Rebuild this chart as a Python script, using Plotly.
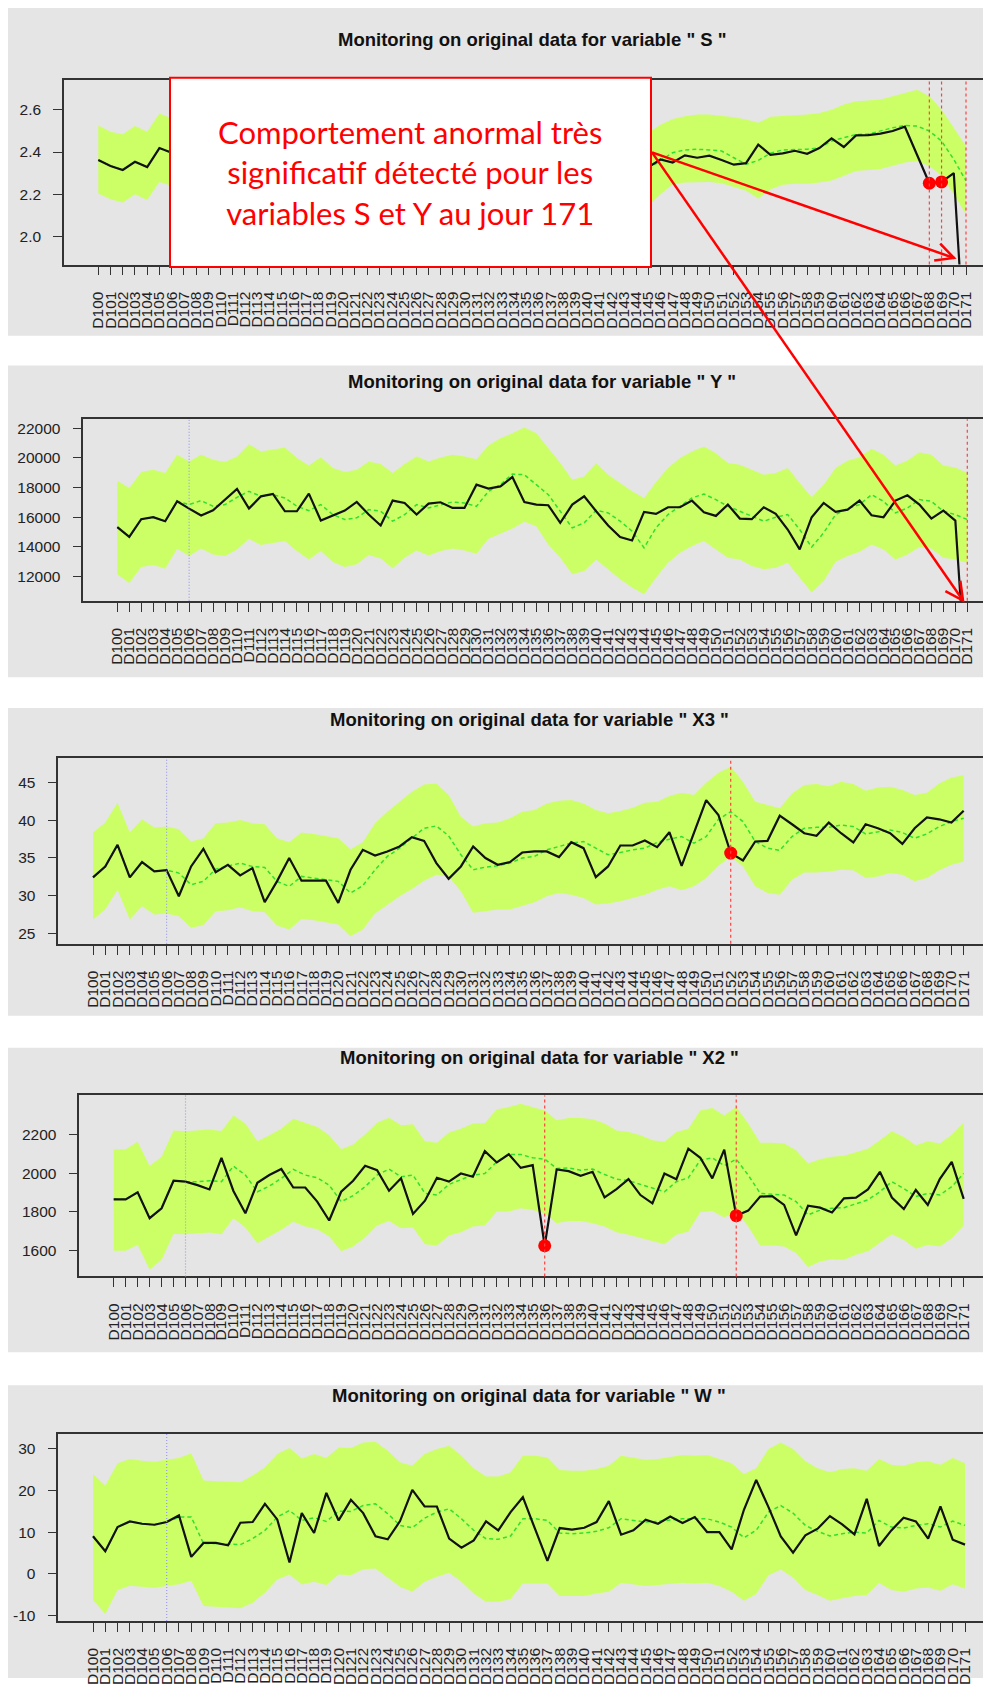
import math
import plotly.graph_objects as go

# ---------------- data ----------------
days = ["D%d" % d for d in range(100, 172)]

S_actual = [2.362, 2.334, 2.315, 2.354, 2.329, 2.419, 2.397,
            2.38, 2.35, 2.37, 2.40, 2.36, 2.33, 2.35, 2.38, 2.37, 2.34,
            2.31, 2.33, 2.36, 2.39, 2.37, 2.35, 2.32, 2.34, 2.37, 2.36,
            2.33, 2.30, 2.32, 2.35, 2.38, 2.36, 2.34, 2.31, 2.29, 2.32,
            2.35, 2.33, 2.30, 2.28, 2.31, 2.33, 2.30, 2.29,
            2.326, 2.365, 2.35, 2.384, 2.373, 2.383, 2.362, 2.34, 2.347, 2.435,
            2.387, 2.394, 2.406, 2.392, 2.419, 2.465, 2.424, 2.479, 2.48, 2.487,
            2.50, 2.52, 2.386, 2.252, 2.258, 2.30, 1.36]
S_mean = [2.362, 2.334, 2.315, 2.354, 2.329, 2.419, 2.397,
          2.40, 2.39, 2.38, 2.38, 2.39, 2.37, 2.36, 2.36, 2.37, 2.36,
          2.35, 2.34, 2.35, 2.36, 2.37, 2.36, 2.35, 2.34, 2.35, 2.36,
          2.35, 2.34, 2.33, 2.34, 2.35, 2.36, 2.35, 2.34, 2.33, 2.32,
          2.33, 2.34, 2.33, 2.32, 2.31, 2.32, 2.32, 2.31,
          2.318, 2.36, 2.397, 2.41, 2.413, 2.41, 2.405, 2.373, 2.342, 2.36,
          2.395, 2.41, 2.413, 2.413, 2.42, 2.452, 2.468, 2.483, 2.485, 2.50,
          2.515, 2.526, 2.523, 2.50, 2.452, 2.365, 2.263]
S_upper = [2.526, 2.496, 2.484, 2.523, 2.496, 2.583, 2.56,
           2.57, 2.56, 2.55, 2.55, 2.56, 2.54, 2.53, 2.53, 2.54, 2.53,
           2.52, 2.51, 2.52, 2.53, 2.54, 2.53, 2.52, 2.51, 2.52, 2.53,
           2.52, 2.51, 2.50, 2.51, 2.52, 2.53, 2.52, 2.51, 2.50, 2.49,
           2.50, 2.51, 2.50, 2.49, 2.48, 2.49, 2.49, 2.48,
           2.491, 2.53, 2.557, 2.57, 2.578, 2.578, 2.573, 2.565, 2.554, 2.539,
           2.567, 2.57, 2.575, 2.578, 2.585, 2.60, 2.625, 2.641, 2.645, 2.649,
           2.665, 2.68, 2.696, 2.665, 2.60, 2.515, 2.428]
S_lower = [2.203, 2.176, 2.161, 2.20, 2.172, 2.258, 2.24,
           2.23, 2.22, 2.21, 2.21, 2.22, 2.20, 2.19, 2.19, 2.20, 2.19,
           2.18, 2.17, 2.18, 2.19, 2.20, 2.19, 2.18, 2.17, 2.18, 2.19,
           2.18, 2.17, 2.16, 2.17, 2.18, 2.19, 2.18, 2.17, 2.16, 2.15,
           2.16, 2.17, 2.16, 2.15, 2.14, 2.15, 2.15, 2.14,
           2.145, 2.20, 2.247, 2.255, 2.258, 2.258, 2.252, 2.235, 2.216, 2.18,
           2.224, 2.245, 2.25, 2.25, 2.255, 2.265, 2.287, 2.31, 2.315, 2.32,
           2.335, 2.35, 2.357, 2.334, 2.287, 2.20, 2.105]

Y_actual = [15318, 14668, 15856, 15991, 15722, 17067, 16574, 16103, 16462, 17179,
            17896, 16574, 17403, 17560, 16394, 16394, 17582, 15767, 16125, 16439,
            17022, 16170, 15430, 17112, 16955, 16170, 16910, 17000, 16618, 16618,
            18188, 17919, 18076, 18703, 17022, 16843, 16798, 15610, 16843, 17403,
            16394, 15430, 14646, 14421, 16349, 16215, 16663, 16663, 17112, 16327,
            16080, 16843, 15901, 15856, 16663, 16215, 15161, 13816, 15991, 16955,
            16349, 16506, 17112, 16125, 15991, 17112, 17470, 16843, 15901, 16439,
            15767, 3600]
Y_upper = [18457, 17964, 19040, 19197, 18973, 20206, 19757, 20206, 19870, 19713,
           20094, 20923, 20430, 20542, 20699, 19982, 19488, 20049, 19309, 19040,
           19197, 19757, 19578, 18973, 19578, 20094, 19757, 20026, 20206, 20094,
           19914, 20834, 21327, 21664, 22045, 21664, 20654, 19645, 18524, 18748,
           19645, 18860, 18300, 17740, 17291, 18367, 19309, 19982, 20430, 20766,
           20318, 19645, 19533, 19197, 18860, 18973, 19309, 18300, 17336, 18188,
           19309, 19802, 20049, 20610, 20206, 19488, 19825, 20385, 20206, 19488,
           19354, 18973]
Y_lower = [12134, 11552, 12628, 12762, 12516, 13861, 13368, 13883, 13480, 13368,
           13816, 14533, 14107, 14220, 14377, 13704, 13143, 13704, 12964, 12628,
           12807, 13435, 13211, 12538, 13256, 13749, 13412, 13704, 13883, 13749,
           13525, 14533, 14892, 15228, 15677, 15385, 14152, 13256, 12134, 12359,
           13143, 12471, 11798, 11238, 10789, 11910, 12919, 13592, 14040, 14377,
           13816, 13256, 13143, 12695, 12471, 12583, 12919, 11910, 10901, 11686,
           12986, 13368, 13659, 14152, 13816, 13143, 13480, 13973, 13883, 13256,
           13143, 12919]
Y_mean = [15318, 14668, 15856, 15991, 15722, 17067, 16843, 17112, 16730, 16843,
          17336, 17740, 17400, 17515, 17291, 16730, 16439, 16843, 16170, 15834,
          15950, 16506, 16394, 15722, 16170, 16843, 16618, 16843, 17022, 16950,
          16730, 17740, 18188, 18905, 18860, 18188, 17515, 16394, 15273, 15610,
          16461, 16282, 15722, 15049, 13928, 15273, 16170, 16730, 17291, 17560,
          17179, 16730, 16394, 16058, 15722, 15991, 16170, 15161, 13973, 14937,
          16170, 16574, 16843, 17515, 17067, 16282, 16618, 17179, 17067, 16394,
          16170, 15834]

X3_actual = [32.40, 33.85, 36.72, 32.40, 34.43, 33.19, 33.37, 29.89, 33.85, 36.19,
             33.10, 34.07, 32.66, 33.63, 29.10, 31.87, 34.96, 31.96, 31.96, 31.96,
             29.01, 33.41, 36.06, 35.31, 35.84, 36.50, 37.73, 37.25, 34.29, 32.22,
             33.85, 36.50, 34.96, 34.07, 34.43, 35.70, 35.84, 35.84, 35.09, 37.07,
             36.28, 32.44, 33.85, 36.63, 36.63, 37.29, 36.41, 38.39, 33.94, 38.30,
             42.66, 40.68, 35.62, 34.65, 37.16, 37.25, 40.59, 39.45, 38.26, 37.91,
             39.67, 38.26, 37.03, 39.45, 38.92, 38.26, 36.85, 38.92, 40.37, 40.11,
             39.67, 41.25]
X3_upper = [38.35, 39.67, 42.31, 38.35, 40.11, 39.01, 39.14, 38.79, 37.16, 37.60,
            39.58, 39.67, 40.02, 39.58, 39.45, 37.60, 37.07, 38.35, 38.17, 37.91,
            37.60, 36.14, 37.07, 39.58, 41.12, 42.44, 43.77, 44.73, 44.87, 43.33,
            40.46, 39.14, 39.58, 39.67, 40.24, 41.12, 41.34, 42.22, 42.58, 42.66,
            42.22, 41.34, 40.90, 41.21, 41.65, 42.31, 42.44, 43.19, 43.63, 43.33,
            44.96, 46.28, 47.07, 45.09, 42.44, 42.00, 41.56, 43.55, 44.65, 44.78,
            44.51, 45.09, 44.78, 43.90, 44.34, 44.43, 43.99, 43.33, 43.63, 44.87,
            45.66, 45.97]
X3_lower = [26.81, 28.13, 30.77, 26.81, 28.57, 27.47, 27.60, 27.25, 25.70, 26.06,
            27.91, 28.04, 28.44, 27.91, 27.78, 26.01, 25.48, 26.89, 26.72, 26.45,
            26.15, 24.60, 25.48, 27.60, 28.79, 29.89, 30.86, 31.96, 32.75, 32.53,
            30.55, 27.69, 27.91, 28.13, 28.13, 28.57, 29.10, 29.89, 30.33, 30.11,
            29.67, 28.79, 28.92, 29.23, 29.67, 30.11, 30.77, 31.21, 30.68, 31.21,
            32.31, 33.94, 35.18, 33.85, 31.21, 30.33, 30.11, 32.09, 33.06, 33.06,
            33.19, 33.41, 33.33, 32.31, 32.53, 32.97, 32.75, 31.87, 32.31, 33.33,
            34.07, 34.51]
X3_mean = [32.40, 33.85, 36.72, 32.40, 34.43, 33.19, 33.37, 32.97, 31.43, 31.87,
           33.50, 33.94, 34.29, 33.85, 33.72, 31.87, 31.21, 32.53, 32.31, 32.18,
           31.87, 30.33, 31.30, 33.41, 35.18, 36.28, 37.60, 38.92, 39.23, 37.91,
           35.40, 33.41, 33.77, 33.94, 34.29, 34.96, 35.18, 36.06, 36.50, 36.94,
           37.16, 36.28, 35.40, 35.70, 36.06, 36.28, 37.03, 37.47, 37.82, 36.94,
           37.82, 40.11, 41.12, 39.80, 37.16, 36.28, 35.97, 37.82, 38.92, 39.05,
           39.05, 39.36, 39.14, 38.17, 38.48, 38.70, 38.35, 37.60, 38.17, 39.14,
           39.80, 40.24]

X2_actual = [1865, 1865, 1901, 1768, 1819, 1961, 1956, 1938, 1916, 2079,
             1908, 1793, 1950, 1990, 2021, 1926, 1926, 1853, 1756, 1904,
             1961, 2038, 2015, 1909, 1973, 1790, 1858, 1976, 1956, 1998,
             1981, 2113, 2055, 2097, 2027, 2041, 1626, 2019, 2010, 1986,
             2007, 1875, 1918, 1969, 1887, 1844, 1998, 1969, 2126, 2079,
             1973, 2121, 1781, 1807, 1879, 1882, 1836, 1679, 1832, 1822,
             1797, 1870, 1874, 1916, 2007, 1874, 1815, 1913, 1836, 1969,
             2058, 1867]
X2_upper = [2123, 2123, 2161, 2036, 2084, 2220, 2215, 2220, 2224, 2217,
            2297, 2255, 2164, 2195, 2229, 2280, 2260, 2238, 2195, 2123,
            2147, 2200, 2260, 2285, 2246, 2251, 2164, 2157, 2209, 2229,
            2255, 2258, 2328, 2340, 2357, 2340, 2323, 2272, 2284, 2284,
            2277, 2255, 2220, 2212, 2195, 2169, 2161, 2212, 2229, 2323,
            2335, 2297, 2340, 2255, 2157, 2157, 2152, 2118, 2050, 2072,
            2084, 2089, 2109, 2126, 2169, 2215, 2186, 2144, 2164, 2152,
            2197, 2260]
X2_lower = [1600, 1600, 1631, 1503, 1554, 1687, 1685, 1691, 1694, 1685,
            1768, 1720, 1639, 1674, 1708, 1750, 1725, 1711, 1674, 1597,
            1622, 1668, 1730, 1754, 1716, 1720, 1634, 1627, 1679, 1696,
            1725, 1730, 1802, 1802, 1819, 1810, 1793, 1742, 1754, 1754,
            1742, 1725, 1696, 1682, 1665, 1651, 1634, 1682, 1699, 1798,
            1805, 1771, 1805, 1725, 1627, 1627, 1622, 1588, 1516, 1545,
            1557, 1554, 1579, 1597, 1639, 1685, 1656, 1610, 1631, 1622,
            1665, 1730]
X2_mean = [1865, 1865, 1901, 1768, 1819, 1961, 1956, 1956, 1961, 1956,
           2036, 1990, 1904, 1933, 1973, 2019, 1990, 1976, 1938, 1853,
           1884, 1930, 1990, 2021, 1981, 1990, 1896, 1887, 1942, 1964,
           1990, 1998, 2058, 2096, 2096, 2079, 2072, 2024, 2027, 2015,
           2021, 1993, 1969, 1961, 1942, 1921, 1904, 1956, 1976, 2067,
           2079, 2038, 2072, 1990, 1896, 1891, 1887, 1853, 1785, 1810,
           1819, 1822, 1844, 1862, 1904, 1956, 1921, 1879, 1896, 1887,
           1930, 1998]

W_actual = [8.99, 5.41, 11.21, 12.56, 12.01, 11.77, 12.41, 14.00, 4.06, 7.40,
            7.40, 6.84, 12.25, 12.41, 16.78, 13.04, 2.70, 14.55, 9.78, 19.40,
            12.80, 17.73, 14.55, 8.99, 8.27, 12.64, 20.12, 16.14, 16.14, 8.43,
            6.28, 8.03, 12.56, 10.42, 14.79, 18.37, 10.70, 3.10, 10.97, 10.58,
            11.05, 12.41, 17.42, 9.38, 10.42, 12.96, 12.01, 13.75, 12.17, 13.60,
            10.02, 10.02, 5.88, 15.35, 22.50, 15.98, 8.99, 5.09, 9.22, 10.81,
            13.84, 11.85, 9.46, 17.97, 6.68, 10.42, 13.44, 12.56, 8.43, 16.14,
            8.19, 7.00]
W_upper = [23.94, 21.15, 26.48, 27.51, 27.12, 26.88, 27.35, 27.75, 28.87, 22.35,
           22.19, 22.11, 21.95, 23.54, 25.53, 28.71, 30.14, 27.67, 28.71, 27.75,
           30.30, 30.14, 31.49, 31.65, 29.50, 26.72, 25.92, 28.71, 29.90, 30.69,
           28.31, 25.29, 23.30, 23.30, 24.33, 28.31, 28.31, 27.91, 24.89, 24.73,
           24.73, 25.13, 25.92, 28.31, 27.91, 27.35, 27.51, 27.91, 28.47, 28.31,
           28.47, 27.51, 26.48, 23.94, 25.29, 29.90, 31.49, 29.90, 26.96, 25.29,
           24.33, 25.13, 25.29, 24.73, 27.51, 26.16, 25.92, 26.72, 26.96, 26.16,
           27.75, 26.48]
W_lower = [-6.28, -9.62, -3.90, -2.86, -3.10, -3.34, -2.94, -2.47, -1.67, -7.71,
           -7.87, -8.03, -8.27, -6.92, -4.53, -1.35, -0.16, -2.54, -1.91, -2.70,
           -0.16, -0.32, 1.11, 1.27, -0.87, -3.10, -4.29, -1.91, -0.72, 0.24,
           -1.91, -4.69, -6.68, -6.68, -6.04, -2.31, -2.31, -2.31, -5.33, -5.33,
           -5.33, -4.69, -4.29, -2.15, -2.47, -2.94, -2.70, -2.47, -2.15, -2.31,
           -2.15, -2.94, -4.29, -6.44, -4.85, -0.32, 1.03, -0.87, -3.90, -5.09,
           -6.44, -5.88, -5.33, -5.09, -2.15, -3.90, -4.29, -3.50, -3.26, -4.06,
           -2.47, -3.50]
W_mean = [8.99, 5.41, 11.21, 12.56, 12.01, 11.77, 12.41, 13.60, 13.60, 7.24,
          7.24, 7.08, 7.00, 8.43, 10.42, 13.60, 15.19, 12.80, 13.44, 12.56,
          15.03, 14.95, 16.38, 16.78, 14.39, 11.61, 11.05, 13.36, 14.79, 15.59,
          13.20, 10.42, 8.43, 8.27, 9.07, 13.20, 13.20, 12.80, 9.78, 9.62,
          9.78, 10.18, 11.05, 13.20, 12.80, 12.41, 12.56, 12.80, 13.20, 13.20,
          13.20, 12.41, 11.21, 8.67, 10.42, 14.79, 16.38, 14.55, 11.61, 10.18,
          9.07, 9.62, 10.02, 9.78, 12.80, 11.21, 10.97, 11.61, 12.01, 11.21,
          12.64, 11.61]

S_alarms = ["D168", "D169", "D171"]
Y_alarms = ["D171"]
X3_alarms = ["D152"]
X2_alarms = ["D136", "D152"]
W_alarms = []
start_day = "D106"

S_ticks = [2.0, 2.2, 2.4, 2.6]
Y_ticks = [12000, 14000, 16000, 18000, 20000, 22000]
X3_ticks = [25, 30, 35, 40, 45]
X2_ticks = [1600, 1800, 2000, 2200]
W_ticks = [-10, 0, 10, 20, 30]

note_lines = ["Comportement anormal très", "significatif détecté pour les",
              "variables S et Y au jour 171"]

series = [
    ("S", S_actual, S_mean, S_upper, S_lower, S_alarms, S_ticks, "%.1f"),
    ("Y", Y_actual, Y_mean, Y_upper, Y_lower, Y_alarms, Y_ticks, "%d"),
    ("X3", X3_actual, X3_mean, X3_upper, X3_lower, X3_alarms, X3_ticks, "%d"),
    ("X2", X2_actual, X2_mean, X2_upper, X2_lower, X2_alarms, X2_ticks, "%d"),
    ("W", W_actual, W_mean, W_upper, W_lower, W_alarms, W_ticks, "%d"),
]
for s in series:
    for arr in s[1:5]:
        assert len(arr) == len(days), (s[0], len(arr))

# ---------------- geometry (page pixels) ----------------
PAGE_W, PAGE_H = 991, 1685
OFF = 8                      # default body margin of the html page
FW, FH = PAGE_W - OFF, PAGE_H - OFF
geom = [
    # box_left, box_top, box_bot, grey_top, grey_bot, title_x, title_y, xfirst, xlast, (v1,p1,v2,p2)
    (64, 80, 265.7, 7, 337, 532, 40, 98.3, 966.0, (2.6, 110.3, 2.0, 237.3)),
    (83.3, 421, 603.3, 367, 680, 542, 383, 117.3, 967.3, (22000, 430.0, 12000, 578.7)),
    (58.3, 761, 947.7, 711, 1020, 529, 722, 93.0, 963.7, (45, 785.7, 25, 937.0)),
    (79.3, 1100, 1281.7, 1052, 1358, 539, 1062, 113.7, 963.7, (2200, 1139.0, 1600, 1256.0)),
    (58.3, 1440, 1627.7, 1391, 1700, 529, 1401, 93.0, 965.0, (30, 1454.7, -10, 1622.3)),
]

def px(x):
    return (x - OFF) / FW

def py(y):
    return 1 - (y - OFF) / FH

BAND = "#ccff66"
MEAN = "#2fe02f"
GREY = "#e5e5e5"
FONT = "Liberation Sans, Arial, sans-serif"

fig = go.Figure()
shapes = []
annotations = []
layout = {}

for k, (name, act, mean, up, lo, alarms, ticks, fmt) in enumerate(series, start=1):
    bl, bt, bb, gt, gb, tx, ty, xf, xl, (v1, p1, v2, p2) = geom[k - 1]
    xa = "x" if k == 1 else "x%d" % k
    ya = "y" if k == 1 else "y%d" % k
    xk = "xaxis" if k == 1 else "xaxis%d" % k
    yk = "yaxis" if k == 1 else "yaxis%d" % k

    shapes.append(dict(type="rect", xref="paper", yref="paper", x0=0, x1=1,
                       y0=max(py(gb), 0), y1=min(py(gt), 1), fillcolor=GREY,
                       line=dict(width=0), layer="below"))

    fig.add_trace(go.Scatter(x=days, y=lo, mode="lines", line=dict(width=0, color=BAND),
                             xaxis=xa, yaxis=ya, showlegend=False, hoverinfo="skip"))
    fig.add_trace(go.Scatter(x=days, y=up, mode="lines", line=dict(width=0, color=BAND),
                             fill="tonexty", fillcolor=BAND,
                             xaxis=xa, yaxis=ya, showlegend=False, hoverinfo="skip"))
    fig.add_trace(go.Scatter(x=days, y=mean, mode="lines",
                             line=dict(width=1.5, color=MEAN, dash="4px,3px"),
                             xaxis=xa, yaxis=ya, showlegend=False))
    fig.add_trace(go.Scatter(x=days, y=act, mode="lines",
                             line=dict(width=2.2, color="#111111"),
                             xaxis=xa, yaxis=ya, showlegend=False))

    sp = (xl - xf) / (len(days) - 1)
    xr = [(bl - xf) / sp, (PAGE_W - xf) / sp]
    upp = (v1 - v2) / (p2 - p1)
    yr = [v2 - (bb - p2) * upp, v1 + (p1 - bt) * upp]

    dx = [d for d in alarms if yr[0] <= act[days.index(d)] <= yr[1]]
    dy = [act[days.index(d)] for d in dx]
    if dx:
        fig.add_trace(go.Scatter(x=dx, y=dy, mode="markers",
                                 marker=dict(size=13, color="#ff0000"),
                                 xaxis=xa, yaxis=ya, showlegend=False))

    shapes.append(dict(type="line", xref=xa, yref=ya + " domain",
                       x0=days.index(start_day), x1=days.index(start_day), y0=0, y1=1,
                       line=dict(color="#9a9af0", width=1.2, dash="1px,2px"), layer="above"))
    for d in alarms:
        i = days.index(d)
        shapes.append(dict(type="line", xref=xa, yref=ya + " domain", x0=i, x1=i, y0=0, y1=1,
                           line=dict(color="#ff4040", width=1.2, dash="3px,3px"), layer="above"))

    layout[xk] = dict(domain=[px(bl), 1], anchor=ya, type="category",
                      categoryorder="array", categoryarray=days, range=xr,
                      tickmode="array", tickvals=days, ticktext=days, tickangle=-90,
                      ticks="outside", ticklen=9, tickwidth=1.3, tickcolor="#333333",
                      showline=True, mirror=True, linecolor="#333333", linewidth=1.5,
                      showgrid=False, zeroline=False, ticklabelstandoff=10,
                      tickfont=dict(family=FONT, size=15.5, color="#222222"))
    layout[yk] = dict(domain=[py(bb), py(bt)], anchor=xa, range=yr,
                      tickmode="array", tickvals=ticks, ticktext=[fmt % t for t in ticks],
                      ticks="outside", ticklen=9, tickwidth=1.3, tickcolor="#333333",
                      showline=True, linecolor="#333333", linewidth=1.5,
                      showgrid=False, zeroline=False, ticklabelstandoff=9,
                      tickfont=dict(family=FONT, size=15.5, color="#222222"))

    annotations.append(dict(xref="paper", yref="paper", x=px(tx), y=py(ty),
                            xanchor="center", yanchor="middle", showarrow=False,
                            text='<b>Monitoring on original data for variable " %s "</b>' % name,
                            font=dict(family=FONT, size=18.5, color="#111111")))

# ---------------- annotation box and arrows ----------------
shapes.append(dict(type="rect", xref="paper", yref="paper", x0=px(170), x1=px(651),
                   y0=py(268), y1=py(78), fillcolor="white",
                   line=dict(color="#ff0000", width=2), layer="above"))
annotations.append(dict(xref="paper", yref="paper", x=px(410), y=py(173),
                        xanchor="center", yanchor="middle", showarrow=False,
                        text="<br>".join(note_lines), align="center",
                        font=dict(family="Comic Sans MS, Lato, sans-serif", size=31,
                                  color="#ff0000")))

def arrow(x0, y0, x1, y1, L=20, ang=27):
    dx, dy = x1 - x0, y1 - y0
    n = math.hypot(dx, dy)
    ux, uy = dx / n, dy / n
    out = [dict(type="line", xref="paper", yref="paper", x0=px(x0), y0=py(y0),
                x1=px(x1), y1=py(y1), line=dict(color="#ff0000", width=2.5), layer="above")]
    pts = []
    for s in (1, -1):
        a = math.radians(ang * s)
        rx = ux * math.cos(a) - uy * math.sin(a)
        ry = ux * math.sin(a) + uy * math.cos(a)
        pts.append((x1 - L * rx, y1 - L * ry))
    path = "M %f,%f L %f,%f L %f,%f" % (px(pts[0][0]), py(pts[0][1]), px(x1), py(y1),
                                        px(pts[1][0]), py(pts[1][1]))
    out.append(dict(type="path", xref="paper", yref="paper", path=path,
                    line=dict(color="#ff0000", width=2.5), layer="above"))
    return out

shapes += arrow(652, 153, 954, 259)
shapes += arrow(652, 153, 963, 603)

fig.update_layout(width=FW, height=FH, margin=dict(l=0, r=0, t=0, b=0),
                  paper_bgcolor="white", plot_bgcolor=GREY, showlegend=False,
                  shapes=shapes, annotations=annotations, **layout)

fig.write_html("out.html")
